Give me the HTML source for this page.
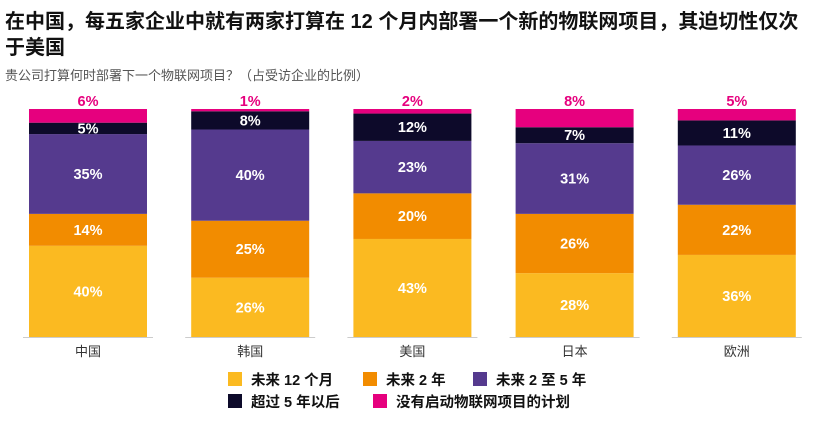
<!DOCTYPE html>
<html><head><meta charset="utf-8"><style>
body{margin:0;width:831px;height:422px;background:#fff;overflow:hidden;font-family:"Liberation Sans","Noto Sans CJK SC",sans-serif}
</style></head><body>
<svg width="831" height="422" id="svg" style="position:absolute;left:0;top:0">
<text x="5" y="28" font-size="20" font-weight="bold" fill="#111">在中国，每五家企业中就有两家打算在 12 个月内部署一个新的物联网项目，其迫切性仅次</text>
<text x="5" y="54" font-size="20" font-weight="bold" fill="#111">于美国</text>
<text x="5" y="80" font-size="13" fill="#555">贵公司打算何时部署下一个物联网项目？（占受访企业的比例）</text>
<g id="bars"></g>
<g id="legend" font-size="14.5" font-weight="bold" fill="#111"></g>
</svg>
<script>
const categories=["中国","韩国","美国","日本","欧洲"];
const seriesNames=["未来 12 个月","未来 2 年","未来 2 至 5 年","超过 5 年以后","没有启动物联网项目的计划"];
const s12m=[40,26,43,28,36];
const s2y=[14,25,20,26,22];
const s2to5=[35,40,23,31,26];
const sOver5=[5,8,12,7,11];
const sNone=[6,1,2,8,5];
const series=[s12m,s2y,s2to5,sOver5,sNone];
const colors=["#FBBA21","#F28C00","#553A8E","#0D0A2A","#E6007E"];
const NS="http://www.w3.org/2000/svg";
const base=337,scale=2.28,barW=118,x0=29,step=162.2;
const xPos=i=>x0+i*step;
const yH=v=>v*scale;
const g=document.getElementById('bars');
function mk(t,a){const e=document.createElementNS(NS,t);for(const k in a)e.setAttribute(k,a[k]);return e;}
categories.forEach((c,i)=>{
  const x=xPos(i);
  let y=base;
  const ax=mk('line',{x1:x-6,x2:x+barW+6,y1:base+0.5,y2:base+0.5,stroke:'#ccc','stroke-width':1});
  
  
  g.appendChild(ax);
  series.forEach((s,k)=>{
    const h=yH(s[i]);y-=h;
    const r=mk('rect',{x:x,y:y,width:barW,height:h,fill:colors[k]});
    
    
    g.appendChild(r);
    const t=mk('text',{x:x+barW/2,'text-anchor':'middle','font-size':14.5,'font-weight':'bold'});
    if(k===4){t.setAttribute('y',y-3);t.setAttribute('fill','#E6007E');}
    else{t.setAttribute('y',y+h/2+5);t.setAttribute('fill','#fff');}
    t.textContent=s[i]+'%';
    
    
    g.appendChild(t);
  });
  const cl=mk('text',{x:x+barW/2,y:356,'text-anchor':'middle','font-size':13,fill:'#333'});
  cl.textContent=c;
  
  
  g.appendChild(cl);
});
const lg=document.getElementById('legend');
const lpos=[[228,372],[363,372],[473,372],[228,394],[373,394]];
seriesNames.forEach((n,k)=>{
  const [x,y]=lpos[k];
  const r=mk('rect',{x:x,y:y,width:14,height:14,fill:colors[k]});
  
  
  lg.appendChild(r);
  const t=mk('text',{x:x+23,y:y+13});
  t.textContent=n;
  
  
  lg.appendChild(t);
});
</script>
</body></html>
